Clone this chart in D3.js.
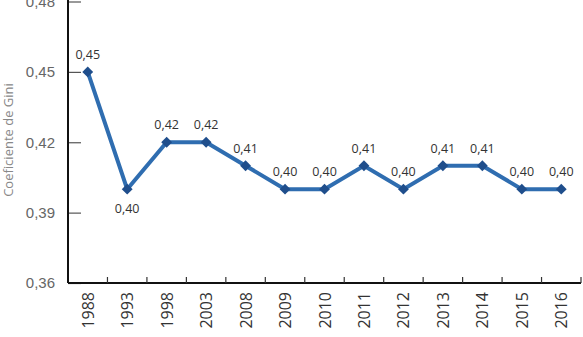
<!DOCTYPE html>
<html>
<head>
<meta charset="utf-8">
<script src="https://cdn.jsdelivr.net/npm/d3@7"></script>
<style>
  body { margin: 0; background: #fff; }
  svg { display: block; font-family: "Open Sans", "Liberation Sans", sans-serif; }
</style>
</head>
<body>
<div id="chart"></div>
<script>
// chart data
const years = ["1988", "1993", "1998", "2003", "2008", "2009", "2010", "2011", "2012", "2013", "2014", "2015", "2016"];
const values = [0.45, 0.40, 0.42, 0.42, 0.41, 0.40, 0.40, 0.41, 0.40, 0.41, 0.41, 0.40, 0.40];
const yTicks = [0.36, 0.39, 0.42, 0.45, 0.48];

const width = 583, height = 337;
const margin = {top: 1.5, right: 2, bottom: 54, left: 68};

const svg = d3.select("#chart").append("svg")
    .attr("width", width)
    .attr("height", height);

const g = svg.append("g")
    .attr("transform", "translate(" + margin.left + "," + margin.top + ")");

const w = width - margin.left - margin.right,
    h = height - margin.top - margin.bottom;

// scales
const x = d3.scaleBand().domain(years).range([0, w]);
const y = d3.scaleLinear().domain([0.36, 0.48]).range([h, 0]);

const fmt = v => d3.format(".2f")(v).replace(".", ",");

// y axis: ticks point inward
const yAxis = g.append("g")
    .call(d3.axisLeft(y).tickValues(yTicks).tickSize(-13).tickPadding(13).tickFormat(fmt));
yAxis.select(".domain").remove();
yAxis.selectAll(".tick line").attr("stroke", "#555").attr("stroke-width", 1.2);
yAxis.selectAll(".tick text").attr("fill", "#666").style("font-size", "15px");

g.append("line")
    .attr("x1", 0).attr("x2", 0)
    .attr("y1", -margin.top).attr("y2", h)
    .attr("stroke", "#111").attr("stroke-width", 2);

// x axis: ticks at band boundaries
const xg = g.append("g").attr("transform", "translate(0," + h + ")");
xg.append("line")
    .attr("x1", 0).attr("x2", w)
    .attr("stroke", "#111").attr("stroke-width", 2);
xg.selectAll(".xtick")
    .data(years)
    .enter().append("line")
    .attr("class", "xtick")
    .attr("x1", d => x(d) + x.bandwidth())
    .attr("x2", d => x(d) + x.bandwidth())
    .attr("y1", 0).attr("y2", -6)
    .attr("stroke", "#333").attr("stroke-width", 1.2);
xg.selectAll(".xlabel")
    .data(years)
    .enter().append("text")
    .attr("class", "xlabel")
    .attr("transform", d => "translate(" + (x(d) + x.bandwidth() / 2 + 6) + ",9) rotate(-90)")
    .attr("text-anchor", "end")
    .attr("fill", "#333")
    .style("font-size", "16px")
    .text(d => d);

// y axis title
svg.append("text")
    .attr("transform", "translate(13,140) rotate(-90)")
    .attr("text-anchor", "middle")
    .attr("fill", "#888")
    .style("font-size", "13px")
    .text("Coeficiente de Gini");

// line
const pts = years.map((yr, i) => ({year: yr, value: values[i]}));
const line = d3.line()
    .x(d => x(d.year) + x.bandwidth() / 2)
    .y(d => y(d.value));

g.append("path")
    .datum(pts)
    .attr("d", line)
    .attr("fill", "none")
    .attr("stroke", "#2f6db0")
    .attr("stroke-width", 4);

// diamond markers
g.selectAll(".marker")
    .data(pts)
    .enter().append("path")
    .attr("class", "marker")
    .attr("d", d3.symbol().type(d3.symbolDiamond2).size(75))
    .attr("transform", d => "translate(" + (x(d.year) + x.bandwidth() / 2) + "," + y(d.value) + ")")
    .attr("fill", "#1f4e8c");

// data labels
g.selectAll(".dlabel")
    .data(pts)
    .enter().append("text")
    .attr("class", "dlabel")
    .attr("x", d => x(d.year) + x.bandwidth() / 2)
    .attr("y", (d, i) => i === 1 ? y(d.value) + 24 : y(d.value) - 13)
    .attr("text-anchor", "middle")
    .attr("fill", "#333")
    .style("font-size", "12.5px")
    .text(d => fmt(d.value));
</script>
</body>
</html>
